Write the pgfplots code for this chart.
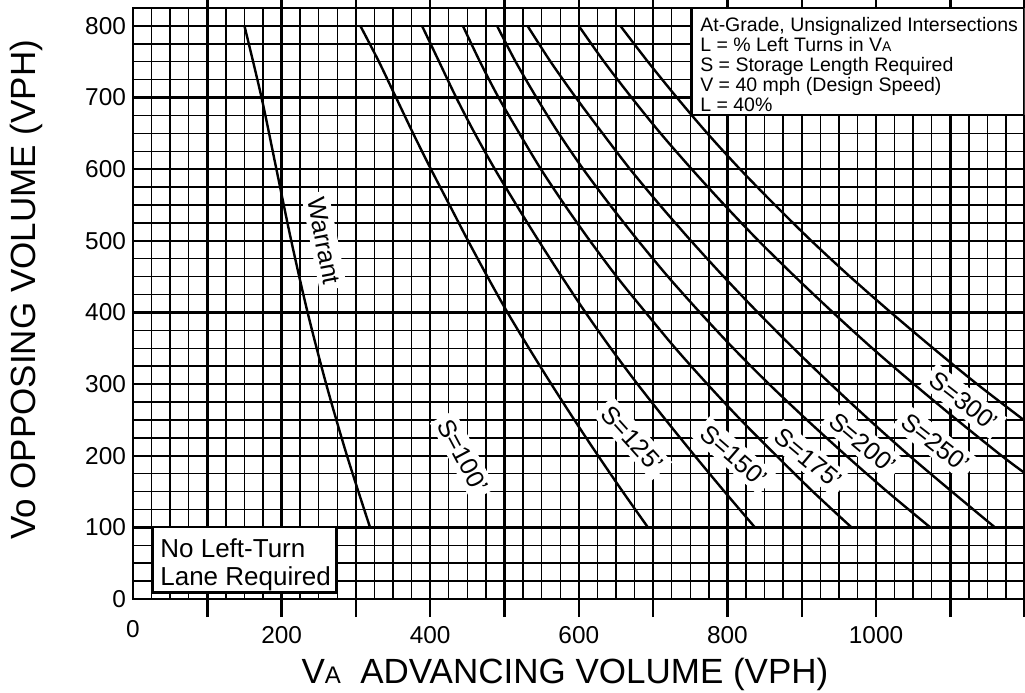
\documentclass[border=0pt]{standalone}
\usepackage{fontspec}
\setmainfont{Liberation Sans}
\usepackage{pgfplots}
\pgfplotsset{compat=1.18}
\begin{document}
\begin{tikzpicture}
\begin{axis}[
  set layers,
  width=445.8pt, height=295.5pt, scale only axis,
  xmin=0, xmax=1200, ymin=0, ymax=825,
  enlargelimits=false,
  axis line style={line width=1.3pt},
  xtick={100,200,...,1200},
  xticklabels={,200,,400,,600,,800,,1000,,},
  extra x ticks={0},
  extra x tick labels={0},
  extra x tick style={tick style={draw=none}, xticklabel style={yshift=3pt}},
  ytick={0,100,...,800},
  minor xtick={25,50,...,1175},
  minor ytick={25,50,...,800},
  grid=both,
  major grid style={line width=1.2pt, black},
  minor grid style={line width=0.7pt, black},
  tick align=outside,
  major tick length=9pt, minor tick length=0pt,
  xtick style={line width=1.2pt, black},
  ytick style={draw=none},
  /pgf/number format/assume math mode=true,
  ticklabel style={font=\fontsize{12.2}{14}\selectfont},
  xticklabel style={yshift=-1pt},
  yticklabel style={xshift=9pt},
  xlabel={V{\fontsize{12}{14}\selectfont A}\ \ ADVANCING VOLUME (VPH)},
  ylabel={Vo OPPOSING VOLUME (VPH)},
  label style={font=\fontsize{17.5}{20}\selectfont},
  x label style={at={(axis description cs:0.4845,0)}, anchor=center, yshift=-37.5pt},
  y label style={at={(axis description cs:-0.119,0.523)}, anchor=center},
  clip=true,
]
% Warrant
\addplot[black, line width=1.2pt, smooth, tension=0.5] coordinates {
(150,800) (173,700) (193,600) (213,500) (235,400) (260,300) (288,200) (319,100)};
% S=100
\addplot[black, line width=1.2pt, smooth, tension=0.5] coordinates {
(306,800) (331,750) (354,700) (377,650) (401,600) (426,550) (451,500) (477,450) (504,400) (533,350) (563,300) (594,250) (626,200) (659,150) (693,100)};
% S=125
\addplot[black, line width=1.2pt, smooth, tension=0.5] coordinates {
(389,800) (412,750) (435,700) (460,650) (487,600) (516,550) (546,500) (577,450) (609,400) (643,350) (679,300) (717,250) (756,200) (796,150) (837,100)};
% S=150
\addplot[black, line width=1.2pt, smooth, tension=0.5] coordinates {
(444,800) (467,750) (492,700) (520,650) (549,600) (581,550) (615,500) (651,450) (690,400) (730,350) (773,300) (818,250) (866,200) (915,150) (967,100)};
% S=175
\addplot[black, line width=1.2pt, smooth, tension=0.5] coordinates {
(490,800) (515,750) (543,700) (573,650) (606,600) (642,550) (680,500) (720,450) (763,400) (808,350) (856,300) (907,250) (960,200) (1015,150) (1073,100)};
% S=200
\addplot[black, line width=1.2pt, smooth, tension=0.5] coordinates {
(531,800) (562,750) (596,700) (632,650) (669,600) (709,550) (751,500) (795,450) (841,400) (889,350) (939,300) (991,250) (1045,200) (1102,150) (1160,100)};
% S=250
\addplot[black, line width=1.2pt, smooth, tension=0.5] coordinates {
(600,800) (634,750) (671,700) (710,650) (752,600) (796,550) (842,500) (891,450) (942,400) (995,350) (1051,300) (1109,250) (1169,200) (1200,176)};
% S=300
\addplot[black, line width=1.2pt, smooth, tension=0.5] coordinates {
(656,800) (693,750) (732,700) (773,650) (817,600) (864,550) (913,500) (965,450) (1020,400) (1077,350) (1136,300) (1200,249)};
% curve labels (below the curves, above the grid)
\begin{pgfonlayer}{pre main}
\node[fill=white, inner sep=2.5pt, rotate=-79, font=\fontsize{12.5}{14}\selectfont] at (axis cs:257,500) {Warrant};
\node[fill=white, inner sep=2.5pt, rotate=-62, font=\fontsize{12.5}{14}\selectfont] at (axis cs:444,200) {S=100'};
\node[fill=white, inner sep=2.5pt, rotate=-48, font=\fontsize{12.5}{14}\selectfont] at (axis cs:672,224) {S=125'};
\node[fill=white, inner sep=2.5pt, rotate=-41, font=\fontsize{12.5}{14}\selectfont] at (axis cs:809,200) {S=150'};
\node[fill=white, inner sep=2.5pt, rotate=-40, font=\fontsize{12.5}{14}\selectfont] at (axis cs:909,196) {S=175'};
\node[fill=white, inner sep=2.5pt, rotate=-40, font=\fontsize{12.5}{14}\selectfont] at (axis cs:982,218) {S=200'};
\node[fill=white, inner sep=2.5pt, rotate=-38, font=\fontsize{12.5}{14}\selectfont] at (axis cs:1080,218) {S=250'};
\node[fill=white, inner sep=2.5pt, rotate=-38, font=\fontsize{12.5}{14}\selectfont] at (axis cs:1118,276) {S=300'};
\end{pgfonlayer}
% boxes
\draw[fill=white, line width=1.3pt] (axis cs:752,675.6) rectangle (axis cs:1200,825);
\node[anchor=north west, inner sep=0pt, align=left, font=\fontsize{9.75}{9.9}\selectfont] at (axis cs:763,812) {At-Grade, Unsignalized Intersections\\L = \% Left Turns in V{\fontsize{7}{8}\selectfont A}\\S = Storage Length Required\\V = 40 mph (Design Speed)\\L = 40\%};
\draw[fill=white, line width=1.1pt] (axis cs:27,100) rectangle (axis cs:274,9);
\node[anchor=north west, inner sep=0pt, align=left, font=\fontsize{13}{14.3}\selectfont] at (axis cs:36.3,85) {No Left-Turn\\Lane Required};
\coordinate (bl) at (rel axis cs:0,0);
\coordinate (tr) at (rel axis cs:1,1);
\end{axis}
\pgfresetboundingbox
\useasboundingbox ([xshift=-66.5pt,yshift=-46.5pt]bl) rectangle ([xshift=0.2pt,yshift=4pt]tr);
\end{tikzpicture}
\end{document}
